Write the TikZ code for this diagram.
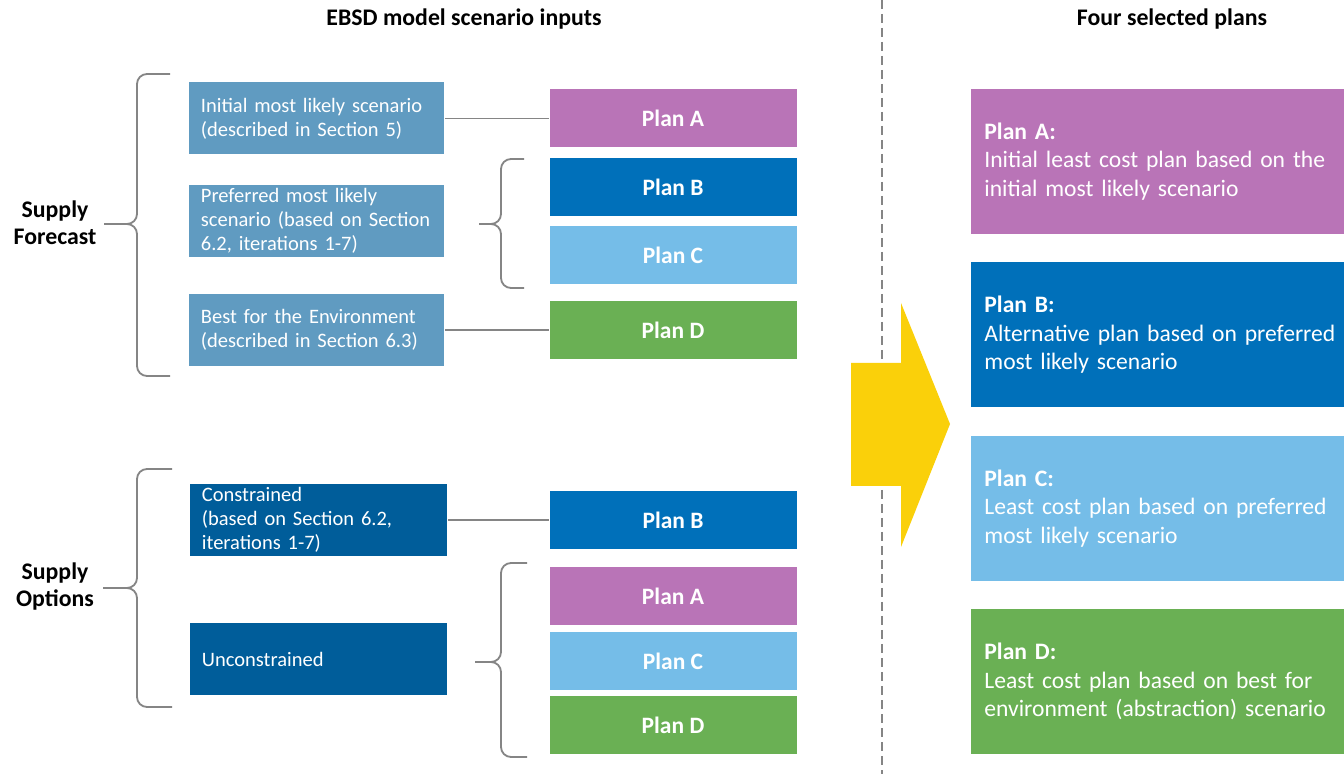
\documentclass[tikz,border=0pt]{standalone}
\usepackage{fontspec}
\setmainfont{Carlito}

\definecolor{scenblue}{HTML}{609BC1}
\definecolor{optblue}{HTML}{005D9A}
\definecolor{planA}{HTML}{B974B7}
\definecolor{planB}{HTML}{0070BA}
\definecolor{planC}{HTML}{75BDE8}
\definecolor{planD}{HTML}{6AB054}
\definecolor{arrowyellow}{HTML}{FAD00A}
\definecolor{linegray}{HTML}{858585}

\begin{document}
\begin{tikzpicture}[
    x=0.5pt, y=-0.5pt,
    heading/.style={font=\fontsize{11.9}{14}\selectfont\bfseries, inner sep=0pt},
    group/.style={font=\fontsize{11.9}{13.5}\selectfont\bfseries, align=center, inner sep=0pt},
    scen/.style={fill=#1, text=white, anchor=west, minimum height=36pt, inner xsep=5.75pt, inner ysep=0pt, text width=116pt, align=left, font=\fontsize{10.25}{12}\selectfont},
    plan/.style={fill=#1, text=white, minimum width=123.5pt, minimum height=29pt, inner sep=0pt, font=\fontsize{11.75}{14}\selectfont\bfseries},
    chosen/.style={fill=#1, text=white, anchor=west, minimum height=72.5pt, inner xsep=6.5pt, inner ysep=0pt, text width=190pt, align=left, font=\fontsize{11.8}{14.25}\selectfont},
    curly/.style={draw=linegray, line width=0.9pt, rounded corners=5pt},
    link/.style={draw=linegray, line width=0.9pt},
    divider/.style={draw=linegray, line width=0.9pt, dash pattern=on 4.5pt off 2.5pt}
]

\fill[white] (0,0) rectangle (1344,774);
\useasboundingbox (0,0) rectangle (1344,774);

% --- headings ---
\node[heading] (inputs) at (464,19) {EBSD model scenario inputs};
\node[heading] (plans) at (1172,19) {Four selected plans};
\draw[divider] (882,0) -- (882,774);

% --- supply forecast ---
\node[group] (forecast) at (55,223) {Supply\\Forecast};
\node[scen=scenblue] (initial) at (189,118.5) {Initial most likely scenario\\(described in Section 5)};
\node[scen=scenblue] (preferred) at (189,221) {Preferred most likely\\scenario (based on Section\\6.2, iterations 1-7)};
\node[scen=scenblue] (bestenv) at (189,330) {Best for the Environment\\(described in Section 6.3)};

\node[plan=planA] (fA) at (673,118.5) {Plan A};
\node[plan=planB] (fB) at (673,187) {Plan B};
\node[plan=planC] (fC) at (673,255) {Plan C};
\node[plan=planD] (fD) at (673,330) {Plan D};

\draw[curly] (170,74) -- (137,74) -- (137,224) -- (104,224);
\draw[curly] (170,376) -- (137,376) -- (137,224) -- (104,224);
\draw[curly] (524,159) -- (501,159) -- (501,224) -- (479,224);
\draw[curly] (524,288) -- (501,288) -- (501,224) -- (479,224);

\draw[link] (initial) -- (fA);
\draw[link] (bestenv) -- (fD);

% --- supply options ---
\node[group] (options) at (55,587) {Supply\\Options};
\node[scen=optblue, text width=117pt] (constrained) at (190,520) {Constrained\\(based on Section 6.2,\\iterations 1-7)};
\node[scen=optblue, text width=117pt] (unconstrained) at (190,659) {Unconstrained};

\node[plan=planB] (oB) at (673,520) {Plan B};
\node[plan=planA] (oA) at (673,596) {Plan A};
\node[plan=planC] (oC) at (673,661) {Plan C};
\node[plan=planD] (oD) at (673,725) {Plan D};

\draw[curly] (172,469) -- (137,469) -- (137,588) -- (103,588);
\draw[curly] (172,707) -- (137,707) -- (137,588) -- (103,588);
\draw[curly] (527,563) -- (501,563) -- (501,662) -- (475,662);
\draw[curly] (527,757) -- (501,757) -- (501,662) -- (475,662);

\draw[link] (constrained) -- (oB);

% --- big arrow ---
\fill[arrowyellow] (851,363) -- (901,363) -- (901,303) -- (950,424) -- (901,547) -- (901,486) -- (851,486) -- cycle;

% --- four selected plans ---
\node[chosen=planA] (selA) at (971,161.5) {\textbf{Plan A:}\\Initial least cost plan based on the\\initial most likely scenario};
\node[chosen=planB] (selB) at (971,335) {\textbf{Plan B:}\\Alternative plan based on preferred\\most likely scenario};
\node[chosen=planC] (selC) at (971,508.5) {\textbf{Plan C:}\\Least cost plan based on preferred\\most likely scenario};
\node[chosen=planD] (selD) at (971,681.5) {\textbf{Plan D:}\\Least cost plan based on best for\\environment (abstraction) scenario};

\end{tikzpicture}
\end{document}
